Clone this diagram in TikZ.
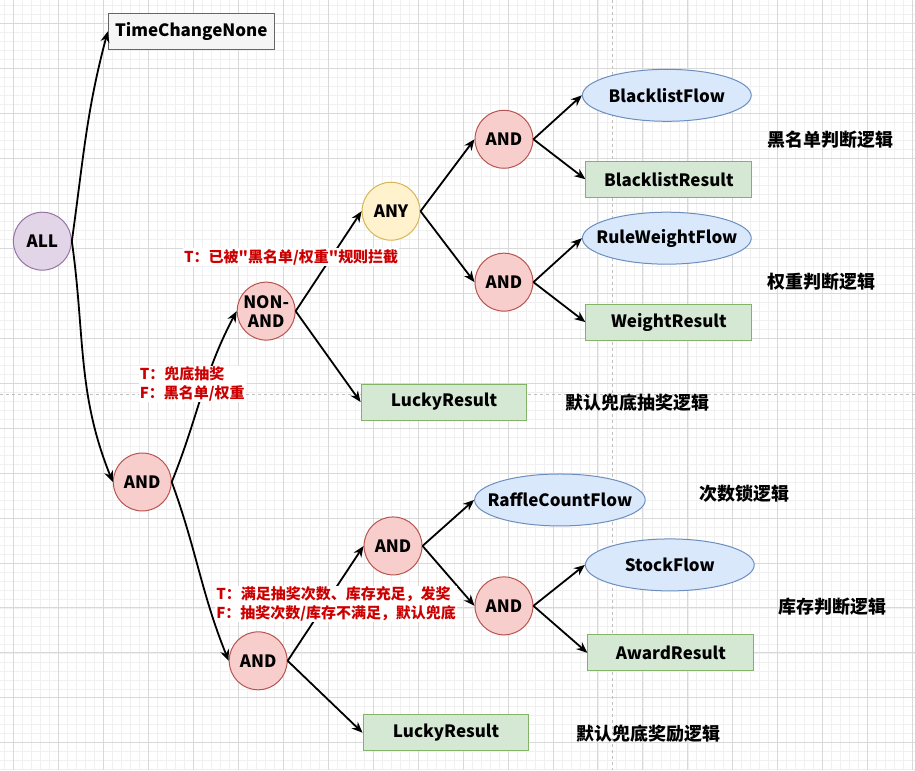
\documentclass[tikz,border=0pt]{standalone}
\usepackage{fontspec}
\setmainfont[Ligatures=TeXOff]{Noto Sans CJK SC}
\usetikzlibrary{shapes.geometric,arrows.meta}
\definecolor{redfill}{HTML}{F8CECC}
\definecolor{redline}{HTML}{B85450}
\definecolor{purfill}{HTML}{E1D5E7}
\definecolor{purline}{HTML}{9673A6}
\definecolor{yelfill}{HTML}{FFF2CC}
\definecolor{yelline}{HTML}{D6B656}
\definecolor{bluefill}{HTML}{DAE8FC}
\definecolor{blueline}{HTML}{6C8EBF}
\definecolor{grnfill}{HTML}{D5E8D4}
\definecolor{grnline}{HTML}{82B366}
\definecolor{grayfill}{HTML}{F5F5F5}
\definecolor{grayline}{HTML}{666666}
\definecolor{condred}{HTML}{CC0000}
\begin{document}
\begin{tikzpicture}[x=1pt,y=-1pt]
\tikzset{gate/.style = {shape=circle,draw,line width=1pt,minimum size=58pt,inner sep=0pt,font=\fontsize{17}{19}\selectfont\bfseries,align=center}}
\tikzset{result/.style = {shape=rectangle,draw=grnline,fill=grnfill,line width=1pt,minimum width=166pt,minimum height=36pt,font=\fontsize{17}{19}\selectfont\bfseries}}
\tikzset{flow/.style = {shape=ellipse,draw=blueline,fill=bluefill,line width=1pt,minimum width=169pt,minimum height=52pt,inner sep=0pt,inner xsep=-12pt,font=\fontsize{17}{19}\selectfont\bfseries}}
\tikzset{edge/.style = {->,> = {Stealth[length=11pt,width=9pt]},line width=1.8pt}}
\tikzset{cond/.style = {fill=white,text=condred,align=left,inner sep=1pt,font=\fontsize{15}{19}\selectfont\bfseries}}
\tikzset{note/.style = {font=\fontsize{18}{20}\selectfont\bfseries}}
% background grid
\fill[white] (0,0) rectangle (915,770);
\foreach \x in {4,13,...,915} \draw[black!6,line width=0.6pt] (\x,0) -- (\x,770);
\foreach \y in {5,14,...,770} \draw[black!6,line width=0.6pt] (0,\y) -- (915,\y);
\foreach \x in {13,58,...,915} \draw[black!15,line width=0.8pt] (\x,0) -- (\x,770);
\foreach \y in {23,68,...,770} \draw[black!15,line width=0.8pt] (0,\y) -- (915,\y);
\draw[black!25,dashed,line width=0.8pt] (613,0) -- (613,770);
\draw[black!25,dashed,line width=0.8pt] (0,394) -- (915,394);
% gates
\node[gate,draw=purline,fill=purfill] (all) at (42,241) {ALL};
\node[gate,draw=redline,fill=redfill] (a1) at (142,482) {AND};
\node[gate,draw=redline,fill=redfill] (nand) at (266,311) {NON-\\AND};
\node[gate,draw=yelline,fill=yelfill] (any) at (391,211) {ANY};
\node[gate,draw=redline,fill=redfill] (a2) at (504,139) {AND};
\node[gate,draw=redline,fill=redfill] (a3) at (504,282) {AND};
\node[gate,draw=redline,fill=redfill] (a4) at (258,661) {AND};
\node[gate,draw=redline,fill=redfill] (a5) at (393,546) {AND};
\node[gate,draw=redline,fill=redfill] (a6) at (504,606) {AND};
% leaves
\node[result,draw=grayline,fill=grayfill] (tcn) at (191,31) {TimeChangeNone};
\node[flow] (blf) at (667,95) {BlacklistFlow};
\node[result] (blr) at (669,179) {BlacklistResult};
\node[flow] (rwf) at (667,238) {RuleWeightFlow};
\node[result] (wr) at (669,322) {WeightResult};
\node[result] (lr1) at (444,402) {LuckyResult};
\node[flow] (rcf) at (560,500) {RaffleCountFlow};
\node[flow] (sf) at (670,565) {StockFlow};
\node[result] (ar) at (671,653) {AwardResult};
\node[result] (lr2) at (446,733) {LuckyResult};
% notes
\node[note] (n1) at (831,139) {黑名单判断逻辑};
\node[note] (n2) at (822,282) {权重判断逻辑};
\node[note] (n3) at (638,403) {默认兜底抽奖逻辑};
\node[note] (n4) at (745,494) {次数锁逻辑};
\node[note] (n5) at (833,607) {库存判断逻辑};
\node[note] (n6) at (649,734) {默认兜底奖励逻辑};
% edges
\draw[edge] (all.east) to[out=82,in=-105] (tcn.west);
\draw[edge] (all.east) to[out=-82,in=112] (a1.west);
\draw[edge] (a1.east) to[out=68,in=242] (nand.west);
\draw[edge] (a1.east) to[out=-70,in=112] (a4.west);
\draw[edge] (nand.east) -- (any.west);
\draw[edge] (nand.east) -- (lr1.west);
\draw[edge] (any.east) -- (a2.west);
\draw[edge] (any.east) -- (a3.west);
\draw[edge] (a2.east) -- (blf.west);
\draw[edge] (a2.east) -- (blr.west);
\draw[edge] (a3.east) -- (rwf.west);
\draw[edge] (a3.east) -- (wr.west);
\draw[edge] (a4.east) -- (a5.west);
\draw[edge] (a4.east) -- (lr2.west);
\draw[edge] (a5.east) -- (rcf.west);
\draw[edge] (a5.east) -- (a6.west);
\draw[edge] (a6.east) -- (sf.west);
\draw[edge] (a6.east) -- (ar.west);
% conditions
\node[cond,align=center] (c1) at (291,257) {T：已被"黑名单/权重"规则拦截};
\node[cond] (c2) at (192,384) {T：兜底抽奖\\F：黑名单/权重};
\node[cond] (c3) at (336,604) {T：满足抽奖次数、库存充足，发奖\\F：抽奖次数/库存不满足，默认兜底};
\end{tikzpicture}
\end{document}
